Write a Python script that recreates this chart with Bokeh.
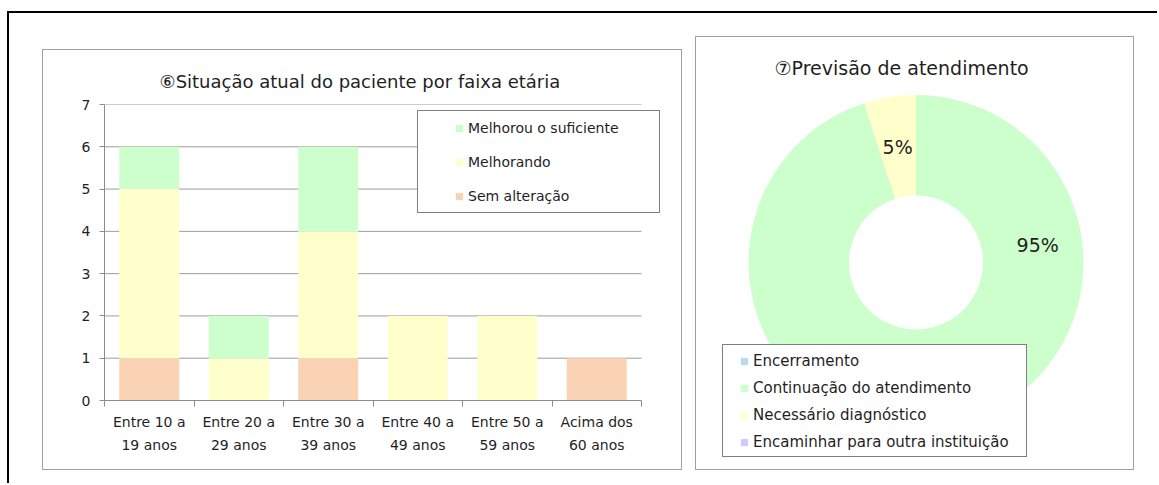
import math
from bokeh.plotting import figure
from bokeh.models import (Range1d, FixedTicker, LinearAxis, Legend, LegendItem,
                          ColumnDataSource, Label, Row, Column, Spacer)
from bokeh.embed import file_html
from bokeh.resources import INLINE

FONT = "DejaVu Sans"
TEXT = "#1f1f1f"
GRID = "#9c9c9c"
AXIS = "#8c8c8c"
PANEL = "#a0a0a0"
NAN = float("nan")

# ---------------- chart 6 data ----------------
age_line1 = ["Entre 10 a", "Entre 20 a", "Entre 30 a", "Entre 40 a", "Entre 50 a", "Acima dos"]
age_line2 = ["19 anos", "29 anos", "39 anos", "49 anos", "59 anos", "60 anos"]
status_names = ["Sem alteração", "Melhorando", "Melhorou o suficiente"]
sem_alteracao = [1, 0, 1, 0, 0, 1]
melhorando = [4, 1, 3, 2, 2, 0]
melhorou_suficiente = [1, 1, 2, 0, 0, 0]
status_colors = ["#FAD3B4", "#FFFFCC", "#CCFFCC"]
y_ticks = [0, 1, 2, 3, 4, 5, 6, 7]
title6 = "⑥Situação atual do paciente por faixa etária"

# ---------------- chart 7 data ----------------
previsao_names = ["Encerramento", "Continuação do atendimento",
                  "Necessário diagnóstico", "Encaminhar para outra instituição"]
previsao_values = [0, 19, 1, 0]
previsao_colors = ["#B7DDE8", "#CCFFCC", "#FFFFCC", "#CCCCFF"]
title7 = "⑦Previsão de atendimento"

# ================= bar chart =================
n = len(age_line1)
centers = [i + 0.5 for i in range(n)]
src = ColumnDataSource(dict(x=centers, sem=sem_alteracao, melh=melhorando, suf=melhorou_suficiente))

BOX1_W, BOX1_H = 640, 421          # outer panel incl. 1px grey border
P1_W, P1_H = BOX1_W - 2, BOX1_H - 2
B_LEFT, B_RIGHT, B_TOP, B_BOTTOM = 61, 13, 54, 69
CAT_PX = 89.5
frame_w = P1_W - B_LEFT - B_RIGHT
x_end = frame_w / CAT_PX  # frame extends a little past the last category (room for the legend)

p1 = figure(width=P1_W, height=P1_H, x_range=Range1d(0, x_end), y_range=Range1d(0, y_ticks[-1]),
            output_backend="svg", toolbar_location=None, tools="",
            min_border_left=B_LEFT, min_border_right=B_RIGHT,
            min_border_top=B_TOP, min_border_bottom=B_BOTTOM,
            x_axis_location=None, y_axis_location=None)
for g in p1.grid:
    g.visible = False
p1.outline_line_color = None
p1.background_fill_color = "white"
p1.border_fill_color = "white"
p1.title.text = title6
p1.title.align = "left"
p1.title.offset = 55
p1.title.text_font = FONT
p1.title.text_font_size = "18px"
p1.title.text_font_style = "normal"
p1.title.text_color = TEXT
p1.title.standoff = 26

yax = LinearAxis(ticker=FixedTicker(ticks=y_ticks), axis_line_color=AXIS,
                 major_tick_line_color=AXIS, major_tick_in=0, major_tick_out=5,
                 minor_tick_line_color=None, major_label_standoff=9,
                 major_label_text_font=FONT, major_label_text_font_size="14px",
                 major_label_text_color=TEXT)
p1.add_layout(yax, "left")

# horizontal grid lines, spanning the categories only
p1.segment(x0=[0] * len(y_ticks), x1=[n] * len(y_ticks), y0=y_ticks, y1=y_ticks,
           line_color=GRID, line_width=1, level="underlay")

xax1 = LinearAxis(ticker=FixedTicker(ticks=centers, minor_ticks=list(range(n + 1))),
                  major_label_overrides={c: t for c, t in zip(centers, age_line1)},
                  bounds=(0, n),
                  axis_line_color=AXIS, major_tick_line_color=None, major_tick_in=0, major_tick_out=0,
                  minor_tick_line_color=AXIS, minor_tick_in=0, minor_tick_out=6,
                  major_label_standoff=7, major_label_text_font=FONT,
                  major_label_text_font_size="14px", major_label_text_color=TEXT)
xax2 = LinearAxis(ticker=FixedTicker(ticks=centers),
                  major_label_overrides={c: t for c, t in zip(centers, age_line2)},
                  bounds=(0, n),
                  axis_line_color=None, major_tick_line_color=None, minor_tick_line_color=None,
                  major_tick_in=0, major_tick_out=0,
                  major_label_standoff=4, major_label_text_font=FONT,
                  major_label_text_font_size="14px", major_label_text_color=TEXT)
p1.add_layout(xax1, "below")
p1.add_layout(xax2, "below")

p1.vbar_stack(["sem", "melh", "suf"], x="x", width=0.67, source=src,
              fill_color=status_colors, line_color=None)

# legend (box + entries)
box_r1 = p1.scatter(x=[], y=[], marker="square", fill_alpha=0, line_alpha=0)
box1 = Legend(items=[LegendItem(label=" ", renderers=[box_r1])], location=(313, 187),
              padding=0, margin=0, spacing=0, glyph_width=1, glyph_height=101,
              label_width=240, label_height=1, label_standoff=0,
              border_line_color="black", border_line_width=1,
              background_fill_color="white", background_fill_alpha=1,
              label_text_font_size="1px")
leg_items1 = []
for name, col in zip(status_names, status_colors):
    r = p1.scatter(x=[NAN], y=[NAN], marker="square", fill_color=col, line_color=None)
    leg_items1.append(LegendItem(label=name, renderers=[r]))
leg1 = Legend(items=leg_items1[::-1], location=(346, 194), padding=0, margin=0, spacing=14,
              glyph_width=18, glyph_height=20, label_height=20, label_standoff=0,
              border_line_color=None, background_fill_alpha=0,
              label_text_font=FONT, label_text_font_size="14px", label_text_color=TEXT)
p1.add_layout(box1)
p1.add_layout(leg1)

# ================= donut chart =================
BOX2_W, BOX2_H = 439, 434
P2_W, P2_H = BOX2_W - 2, BOX2_H - 2
P2_TOP = 57
OUTER = 167.5
INNER = 67
CX = 219.5           # donut centre, px from frame left
CY = 168             # donut centre, px from frame top
frame_h2 = P2_H - P2_TOP
total = sum(previsao_values)
p2 = figure(width=P2_W, height=P2_H,
            x_range=Range1d(-CX, P2_W - CX), y_range=Range1d(-(frame_h2 - CY), CY),
            output_backend="svg", toolbar_location=None, tools="",
            min_border_left=0, min_border_right=0, min_border_top=P2_TOP, min_border_bottom=0,
            x_axis_location=None, y_axis_location=None)
for g in p2.grid:
    g.visible = False
p2.outline_line_color = None
p2.background_fill_color = "white"
p2.border_fill_color = "white"
p2.title.text = title7
p2.title.align = "left"
p2.title.offset = 78
p2.title.text_font = FONT
p2.title.text_font_size = "19px"
p2.title.text_font_style = "normal"
p2.title.text_color = TEXT
p2.title.standoff = 32

starts, ends, cols, mids, vals = [], [], [], [], []
cum = 0
for v, c in zip(previsao_values, previsao_colors):
    a0 = math.pi / 2 - 2 * math.pi * cum / total
    cum += v
    a1 = math.pi / 2 - 2 * math.pi * cum / total
    if v > 0:
        starts.append(a0); ends.append(a1); cols.append(c); mids.append((a0 + a1) / 2); vals.append(v)
wsrc = ColumnDataSource(dict(x=[0] * len(vals), y=[0] * len(vals), s=starts, e=ends, c=cols))
p2.annular_wedge(x="x", y="y", inner_radius=INNER, outer_radius=OUTER,
                 inner_radius_units="screen", outer_radius_units="screen",
                 start_angle="s", end_angle="e", direction="clock",
                 fill_color="c", line_color=None, source=wsrc)

# label placement: the large-slice label was moved by hand in the original
label_moved = {19: (math.radians(8.4), 123)}
for v, m in zip(vals, mids):
    ang, rad = label_moved.get(v, (m, (INNER + OUTER) / 2))
    p2.add_layout(Label(x=rad * math.cos(ang), y=rad * math.sin(ang),
                        text=f"{100 * v / total:.0f}%", text_align="center",
                        text_baseline="middle", text_font=FONT, text_font_size="19px",
                        text_color=TEXT))

box_r2 = p2.scatter(x=[], y=[], marker="square", fill_alpha=0, line_alpha=0)
box2 = Legend(items=[LegendItem(label=" ", renderers=[box_r2])], location=(26, 12),
              padding=0, margin=0, spacing=0, glyph_width=1, glyph_height=111,
              label_width=302, label_height=1, label_standoff=0,
              border_line_color="black", border_line_width=1,
              background_fill_color="white", background_fill_alpha=1,
              label_text_font_size="1px")
leg_items2 = []
for name, col in zip(previsao_names, previsao_colors):
    r = p2.scatter(x=[NAN], y=[NAN], marker="square", fill_color=col, line_color=None)
    leg_items2.append(LegendItem(label=name, renderers=[r]))
leg2 = Legend(items=leg_items2, location=(39, 17), padding=0, margin=0, spacing=7,
              glyph_width=18, glyph_height=20, label_height=20, label_standoff=0,
              border_line_color=None, background_fill_alpha=0,
              label_text_font=FONT, label_text_font_size="15px", label_text_color=TEXT)
p2.add_layout(box2)
p2.add_layout(leg2)

# ================= page layout =================
def line(w, h, color):
    return Spacer(width=w, height=h, styles={"background-color": color})


def boxed(fig, w, h):
    return Column(children=[
        line(w, 1, PANEL),
        Row(children=[line(1, h - 2, PANEL), fig, line(1, h - 2, PANEL)]),
        line(w, 1, PANEL),
    ])


content = Row(children=[
    line(2, 470, "#000"),
    Spacer(width=33, height=10),
    Column(children=[Spacer(width=10, height=36), boxed(p1, BOX1_W, BOX1_H)]),
    Spacer(width=13, height=10),
    Column(children=[Spacer(width=10, height=23), boxed(p2, BOX2_W, BOX2_H)]),
])
root = Column(children=[
    Spacer(width=10, height=11),
    Row(children=[Spacer(width=7, height=10),
                  Column(children=[line(1150, 2, "#000"), content])]),
])

open("out.html", "w").write(file_html(root, INLINE))
